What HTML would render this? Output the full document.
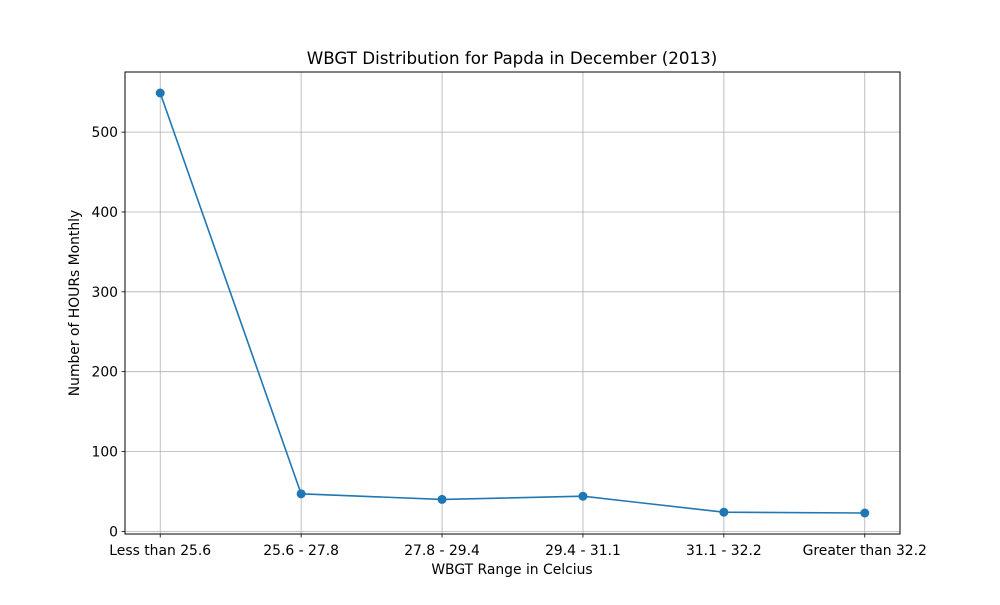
<!DOCTYPE html>
<html><head><meta charset="utf-8"><style>
body{margin:0;background:#fff;}
svg text{font-family:"DejaVu Sans","Liberation Sans",sans-serif;fill:#000;}
</style></head><body>
<svg id="chart" width="1000" height="600" viewBox="0 0 1000 600">
<rect width="1000" height="600" fill="#fff"/>
<text x="512" y="64" font-size="16.7" text-anchor="middle">WBGT Distribution for Papda in December (2013)</text>
<g id="grid"></g>
<g id="series"></g>
<rect x="125" y="72" width="775" height="462" fill="none" stroke="#000" stroke-width="1"/>
<g id="ticks"></g>
<text x="512" y="574" font-size="13.9" text-anchor="middle">WBGT Range in Celcius</text>
<text transform="translate(79,303) rotate(-90)" font-size="13.9" text-anchor="middle">Number of HOURs Monthly</text>
</svg>
<script>
const categories = ["Less than 25.6","25.6 - 27.8","27.8 - 29.4","29.4 - 31.1","31.1 - 32.2","Greater than 32.2"];
const hours = [549, 47, 40, 44, 24, 23];
const yTicks = [0, 100, 200, 300, 400, 500];

const L=125,R=900,T=72,B=534;
const yMin=-3.3,yMax=575.3;
const xS=i=>L+(i+0.25)/(categories.length-1+0.5)*(R-L);
const yS=v=>B-(v-yMin)/(yMax-yMin)*(B-T);
const NS="http://www.w3.org/2000/svg";
function mk(tag,attrs,parent,txt){const e=document.createElementNS(NS,tag);for(const k in attrs)e.setAttribute(k,attrs[k]);if(txt!==undefined)e.textContent=txt;parent.appendChild(e);return e;}
const grid=document.getElementById('grid'),ticks=document.getElementById('ticks'),series=document.getElementById('series');
categories.forEach((c,i)=>{
  const x=xS(i);
  const g=mk('line',{x1:x,x2:x,y1:T,y2:B,stroke:'#b0b0b0','stroke-width':0.8},grid);
  
  
  const t=mk('line',{x1:x,x2:x,y1:B,y2:B+3.5,stroke:'#000','stroke-width':0.8},ticks);
  
  
  const l=mk('text',{x:x,y:B+21,'font-size':13.9,'text-anchor':'middle'},ticks,c);
  
  
});
yTicks.forEach(v=>{
  const y=yS(v);
  const g=mk('line',{x1:L,x2:R,y1:y,y2:y,stroke:'#b0b0b0','stroke-width':0.8},grid);
  
  
  const t=mk('line',{x1:L-3.5,x2:L,y1:y,y2:y,stroke:'#000','stroke-width':0.8},ticks);
  
  
  const l=mk('text',{x:L-7,y:y+5,'font-size':13.9,'text-anchor':'end'},ticks,String(v));
  
  
});
const pts=hours.map((v,i)=>xS(i)+','+yS(v)).join(' ');
const line=mk('polyline',{points:pts,fill:'none',stroke:'#1f77b4','stroke-width':1.6},series);


hours.forEach((v,i)=>{
  const c=mk('circle',{cx:xS(i),cy:yS(v),r:4.5,fill:'#1f77b4'},series);
  
  
});
</script>
</body></html>
